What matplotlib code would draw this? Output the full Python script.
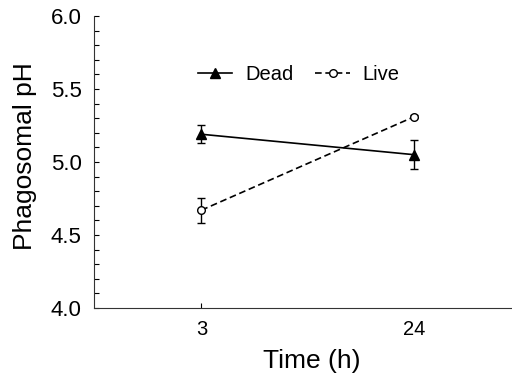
import matplotlib
matplotlib.use("Agg")
from matplotlib import pyplot as plt
from matplotlib.ticker import MultipleLocator

plt.rcParams['font.family'] = ['Liberation Sans', 'DejaVu Sans']

# data
time_labels = ["3", "24"]
dead_ph = [5.19, 5.05]
dead_err = [0.06, 0.10]
live_ph = [4.67, 5.31]
live_err = [0.085, 0.01]

x = [0, 1]

fig = plt.figure(figsize=(5.12, 3.78), dpi=100)
ax = fig.add_axes([0.1835, 0.1852, 0.8165, 0.7725])

ax.errorbar(x, dead_ph, yerr=dead_err, color='black', linewidth=1.2,
            marker='^', markersize=6.5, capsize=3, elinewidth=1.0, label='Dead')
ax.errorbar(x, live_ph, yerr=live_err, color='black', linewidth=1.2,
            linestyle=(0, (4, 2.2)), marker='o', markersize=5.5,
            markerfacecolor='white', markeredgewidth=1.0,
            capsize=3, elinewidth=1.0, label='Live')

ax.set_xlim(-0.505, 1.46)
ax.set_ylim(4.0, 6.0)
ax.set_xticks(x)
ax.set_xticklabels(time_labels)
ax.yaxis.set_major_locator(MultipleLocator(0.5))
ax.yaxis.set_minor_locator(MultipleLocator(0.1))
ax.yaxis.set_major_formatter(plt.FormatStrFormatter('%.1f'))

ax.tick_params(axis='both', which='both', direction='in', length=3.6, width=0.8)
ax.tick_params(axis='x', pad=9, labelsize=14.5)
ax.tick_params(axis='y', pad=9, labelsize=16)
ax.xaxis.get_major_ticks()[1].tick1line.set_visible(False)

for side in ['top', 'right']:
    ax.spines[side].set_visible(False)
for side in ['left', 'bottom']:
    ax.spines[side].set_linewidth(0.8)
    ax.spines[side].set_color('#333333')

ax.set_xlabel("Time (h)", fontsize=19)
ax.set_ylabel("Phagosomal pH", fontsize=19)
ax.xaxis.set_label_coords(0.52, -0.14)
ax.yaxis.set_label_coords(-0.137, 0.52)

handles, labels = ax.get_legend_handles_labels()
handles = [h[0] for h in handles]
ax.legend(handles, labels, loc='center', bbox_to_anchor=(0.49, 0.80), ncol=2,
          frameon=False, fontsize=14.5, handlelength=1.7, handletextpad=0.65,
          columnspacing=1.1)

fig.savefig("out.png", dpi=100)
